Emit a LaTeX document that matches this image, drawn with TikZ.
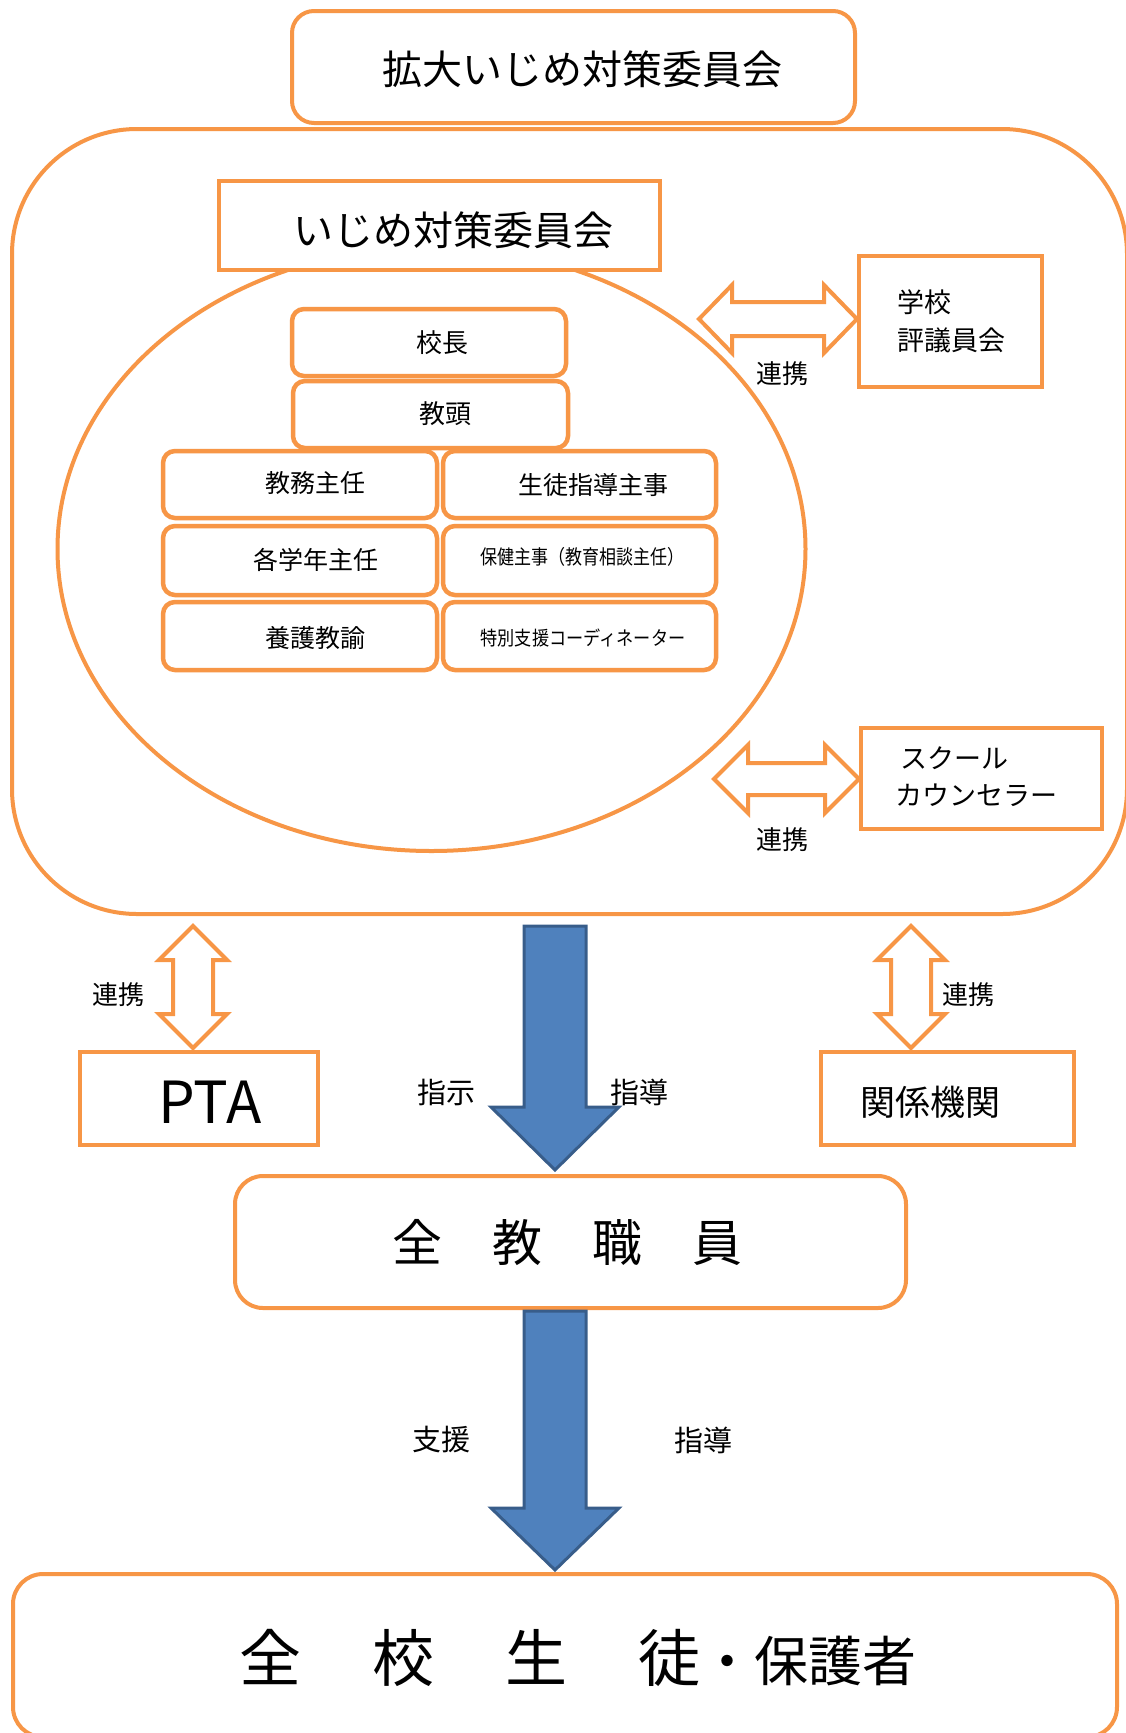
\documentclass[tikz,border=0pt]{standalone}
\usepackage{fontspec}
\setmainfont{Noto Sans CJK JP}
\usetikzlibrary{shapes.geometric}
\definecolor{orng}{HTML}{F79646}
\definecolor{bfill}{HTML}{4F81BD}
\definecolor{bline}{HTML}{385D8A}
\begin{document}
\begin{tikzpicture}[x=1pt,y=-1pt,
  obox/.style={draw=orng, line width=4pt, fill=white, inner sep=0pt},
  rbox/.style={obox, rounded corners=12pt},
  dbl/.style={draw=orng, line width=4pt, fill=white, line join=miter},
  barrow/.style={draw=bline, line width=3pt, fill=bfill, line join=miter},
  fs/.style={font=\fontsize{#1pt}{#1pt}\selectfont},
  txt/.style={inner sep=0pt}]
\useasboundingbox (0,0) rectangle (1125,1733);
% outer rounded area
\node[obox, rounded corners=125pt, minimum width=1115pt, minimum height=785pt] (outer) at (569.5,521.5) {};
% top box
\node[obox, rounded corners=22pt, minimum width=563pt, minimum height=112pt] (kakudai) at (573.5,67) {};
\node[txt, fs=40] at (582,69) {拡大いじめ対策委員会};
% ellipse
\node[draw=orng, line width=4pt, ellipse, minimum width=748pt, minimum height=604pt, inner sep=0pt] (ell) at (431.5,549) {};
% committee box
\node[obox, minimum width=441pt, minimum height=89pt] (iinkai) at (439.5,225.5) {};
\node[txt, fs=40] at (453,230) {いじめ対策委員会};
% inner boxes
\node[rbox, line width=4.5pt, minimum width=274pt, minimum height=67pt] (kocho) at (429,342.5) {};
\node[txt, fs=26] at (442,343) {校長};
\node[rbox, line width=4.5pt, minimum width=275pt, minimum height=67pt] (kyoto) at (430.5,414.5) {};
\node[txt, fs=26] at (445,414) {教頭};
\node[rbox, line width=4.5pt, minimum width=274pt, minimum height=67pt] (kyomu) at (300,484.5) {};
\node[txt, fs=25] at (315,483) {教務主任};
\node[rbox, line width=4.5pt, minimum width=273pt, minimum height=67pt] (seito) at (579.5,484.5) {};
\node[txt, fs=25] at (593,485) {生徒指導主事};
\node[rbox, line width=4.5pt, minimum width=274pt, minimum height=69pt] (gakunen) at (300,560.5) {};
\node[txt, fs=25] at (316,560) {各学年主任};
\node[rbox, line width=4.5pt, minimum width=273pt, minimum height=69pt] (hoken) at (579.5,560.5) {};
\node[txt, fs=20] at (582,557) {\scalebox{0.85}[1]{保健主事（教育相談主任）}};
\node[rbox, line width=4.5pt, minimum width=274pt, minimum height=68pt] (yogo) at (300,636) {};
\node[txt, fs=25] at (315,638) {養護教諭};
\node[rbox, line width=4.5pt, minimum width=273pt, minimum height=68pt] (tokubetsu) at (579.5,636) {};
\node[txt, fs=19.5] at (583,638) {\scalebox{0.88}[1]{特別支援コーディネーター}};
% school council
\node[obox, minimum width=183pt, minimum height=131pt] (hyogi) at (950.5,321.5) {};
\node[txt, align=left, anchor=west, font=\fontsize{27pt}{38pt}\selectfont] at (897,321) {学校\\評議員会};
% school counselor
\node[obox, minimum width=241pt, minimum height=101pt] (counsel) at (981.5,778.5) {};
\node[txt, align=left, anchor=west, font=\fontsize{27pt}{37pt}\selectfont] at (895,777) {\hspace{5pt}スクール\\カウンセラー};
% double arrows (horizontal)
\draw[dbl] (699,319) -- (732,285) -- (732,302) -- (824,302) -- (824,285) -- (857,319)
  -- (824,353) -- (824,336) -- (732,336) -- (732,353) -- cycle;
\node[txt, fs=26] at (782,374) {連携};
\draw[dbl] (714,779) -- (748,745) -- (748,763) -- (825,763) -- (825,745) -- (859,779)
  -- (825,813) -- (825,795) -- (748,795) -- (748,813) -- cycle;
\node[txt, fs=26] at (782,840) {連携};
% double arrows (vertical)
\draw[dbl] (193,926) -- (227,960) -- (213,960) -- (213,1014) -- (227,1014) -- (193,1048)
  -- (159,1014) -- (173,1014) -- (173,960) -- (159,960) -- cycle;
\node[txt, fs=26] at (118,995) {連携};
\draw[dbl] (911,926) -- (945,960) -- (931,960) -- (931,1014) -- (945,1014) -- (911,1048)
  -- (877,1014) -- (891,1014) -- (891,960) -- (877,960) -- cycle;
\node[txt, fs=26] at (968,995) {連携};
% PTA and agencies
\node[obox, minimum width=238pt, minimum height=93pt] (pta) at (199,1098.5) {};
\node[txt, fs=58] at (210,1102) {PTA};
\node[obox, minimum width=253pt, minimum height=93pt] (kankei) at (947.5,1098.5) {};
\node[txt, fs=35] at (930,1102) {関係機関};
% all staff
\node[obox, rounded corners=28pt, minimum width=671pt, minimum height=132pt] (staff) at (570.5,1242) {};
\node[txt, fs=50] at (567.5,1243) {全　教　職　員};
% blue arrows
\draw[barrow] (524,926) -- (586,926) -- (586,1107) -- (619,1107) -- (555,1170) -- (491,1107) -- (524,1107) -- cycle;
\node[txt, fs=29] at (446,1092) {指示};
\node[txt, fs=29] at (639,1092) {指導};
\draw[barrow] (524,1311) -- (586,1311) -- (586,1508) -- (619,1508) -- (555,1570) -- (491,1508) -- (524,1508) -- cycle;
\node[txt, fs=29] at (441,1440) {支援};
\node[txt, fs=29] at (703,1440) {指導};
% students
\node[obox, rounded corners=30pt, minimum width=1104pt, minimum height=163pt] (students) at (565,1655.5) {};
\node[txt, anchor=base west, fs=62] at (239,1681) {全\hspace{71pt}校\hspace{71pt}生\hspace{71pt}徒{\fontsize{54pt}{54pt}\selectfont ・保護者}};
\end{tikzpicture}
\end{document}
